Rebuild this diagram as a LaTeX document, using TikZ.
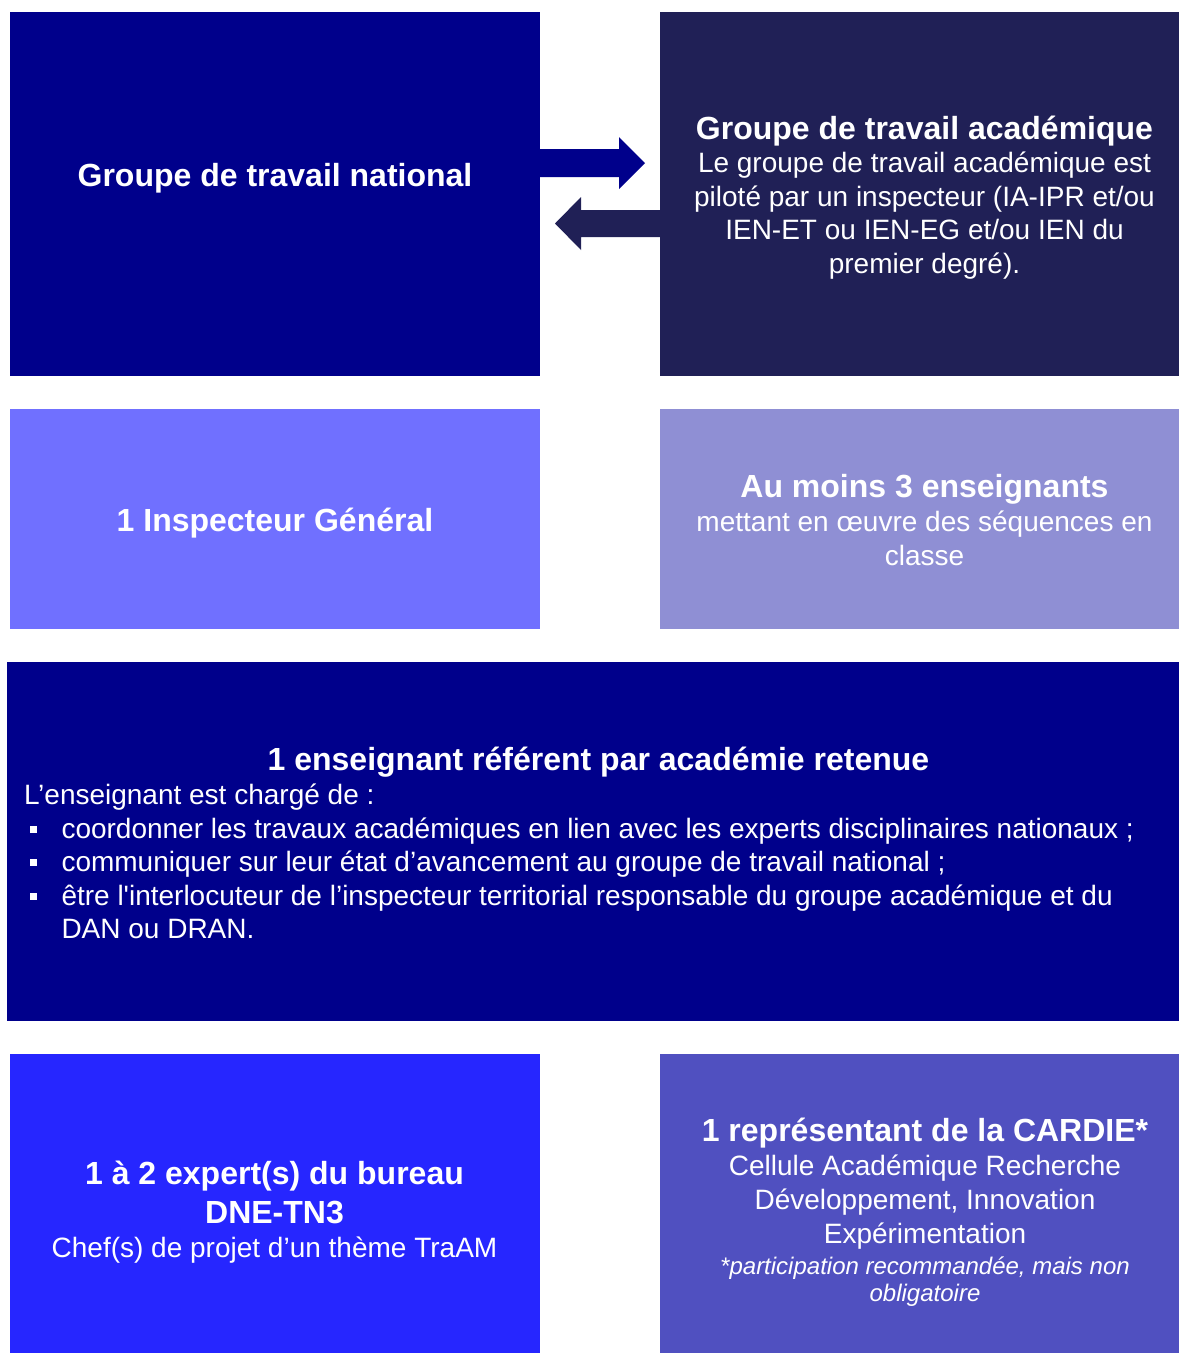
\documentclass[tikz,border=0pt]{standalone}
\usepackage{fontspec}
\setmainfont{Liberation Sans}
\definecolor{cnavy}{RGB}{0,0,139}
\definecolor{cdark}{RGB}{32,32,86}
\definecolor{clight}{RGB}{112,112,255}
\definecolor{clav}{RGB}{143,143,212}
\definecolor{cblue}{RGB}{38,38,255}
\definecolor{cmid}{RGB}{80,80,192}
\begin{document}
\begin{tikzpicture}[x=1pt,y=-1pt,
  box/.style={draw=none, anchor=north west, inner sep=0pt, outer sep=0pt},
  tb/.style={text=white, anchor=base, inner sep=0pt, font=\fontsize{32}{38}\selectfont\bfseries},
  tr/.style={text=white, anchor=base, inner sep=0pt, font=\fontsize{28}{33.5}\selectfont},
  ti/.style={text=white, anchor=base, inner sep=0pt, font=\fontsize{24}{26}\selectfont\itshape},
  tl/.style={text=white, anchor=base west, inner sep=0pt, font=\fontsize{28}{33.5}\selectfont}]
\useasboundingbox (0,0) rectangle (1179,1353);
% boxes
\node[box, fill=cnavy, minimum width=530pt, minimum height=364pt] (gtn) at (10,12) {};
\node[box, fill=cdark, minimum width=519pt, minimum height=364pt] (gta) at (660,12) {};
\node[box, fill=clight, minimum width=530pt, minimum height=220pt] (ig) at (10,409) {};
\node[box, fill=clav, minimum width=519pt, minimum height=220pt] (ens) at (660,409) {};
\node[box, fill=cnavy, minimum width=1172pt, minimum height=359pt] (ref) at (7,662) {};
\node[box, fill=cblue, minimum width=530pt, minimum height=299pt] (exp) at (10,1054) {};
\node[box, fill=cmid, minimum width=519pt, minimum height=299pt] (car) at (660,1054) {};
% arrows
\fill[cnavy] (gtn.north east) ++(0,137) -- ++(79,0) -- ++(0,-12) -- ++(26,26) -- ++(-26,26) -- ++(0,-12) -- ++(-79,0) -- cycle;
\fill[cdark] (gta.north west) ++(0,198) -- ++(-79,0) -- ++(0,-13) -- ++(-26,26.5) -- ++(26,26.5) -- ++(0,-13) -- ++(79,0) -- cycle;
% texts box 1
\node[tb] (t1) at (275,186) {Groupe de travail national};
% box 2
\node[tb] (t2a) at (924.5,139) {Groupe de travail académique};
\node[tr] (t2b) at (924.5,172.5) {Le groupe de travail académique est};
\node[tr] (t2c) at (924.5,206) {piloté par un inspecteur (IA-IPR et/ou};
\node[tr] (t2d) at (924.5,239.5) {IEN-ET ou IEN-EG et/ou IEN du};
\node[tr] (t2e) at (924.5,273) {premier degré).};
% box 3
\node[tb] (t3) at (275,531) {1 Inspecteur Général};
% box 4
\node[tb] (t4a) at (924.5,497.5) {Au moins 3 enseignants};
\node[tr] (t4b) at (924.5,531) {mettant en œuvre des séquences en};
\node[tr] (t4c) at (924.5,565) {classe};
% box 5
\node[tb] (t5) at (598.5,770) {1 enseignant référent par académie retenue};
\node[tl] (l0) at (24,804.5) {L’enseignant est chargé de :};
\node[tl] (l1) at (30,838) {\rule[5.4pt]{6.8pt}{6.8pt}\hspace{24.5pt}coordonner les travaux académiques en lien avec les experts disciplinaires nationaux ;};
\node[tl] (l2) at (30,871.5) {\rule[5.4pt]{6.8pt}{6.8pt}\hspace{24.5pt}communiquer sur leur état d’avancement au groupe de travail national ;};
\node[tl] (l3) at (30,905) {\rule[5.4pt]{6.8pt}{6.8pt}\hspace{24.5pt}être l\textquotesingle interlocuteur de l’inspecteur territorial responsable du groupe académique et du};
\node[tl] (l4) at (61.3,938.5) {DAN ou DRAN.};
% box 6
\node[tb] (t6a) at (274.5,1184) {1 à 2 expert(s) du bureau};
\node[tb] (t6b) at (274.5,1223.5) {DNE-TN3};
\node[tr] (t6c) at (274.5,1257) {Chef(s) de projet d’un thème TraAM};
% box 7
\node[tb] (t7a) at (925,1141.5) {1 représentant de la CARDIE*};
\node[tr] (t7b) at (925,1175.5) {Cellule Académique Recherche};
\node[tr] (t7c) at (925,1209) {Développement, Innovation};
\node[tr] (t7d) at (925,1243) {Expérimentation};
\node[ti] (t7e) at (925,1274) {*participation recommandée, mais non};
\node[ti] (t7f) at (925,1301) {obligatoire};
\end{tikzpicture}
\end{document}
